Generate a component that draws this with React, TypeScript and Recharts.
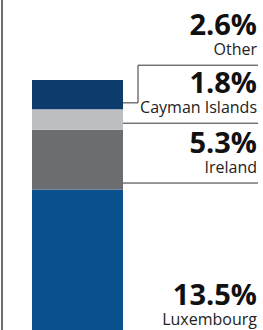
import React from 'react';
import { BarChart, Bar, XAxis, YAxis, LabelList } from 'recharts';

const categories = ['Share'];
const seriesNames = ['Luxembourg', 'Ireland', 'Cayman Islands', 'Other'];
const seriesValues = [13.5, 5.3, 1.8, 2.6];
const seriesColors = ['#0a508e', '#6c6d70', '#bdbec0', '#0d3c6c'];

const data = categories.map((name) => {
  const row: Record<string, string | number> = { name };
  seriesValues.forEach((v, i) => {
    row[`s${i}`] = v;
  });
  return row;
});

const total = seriesValues.reduce((a, b) => a + b, 0);

const LINE_GAP = 7; // leader line sits this far above segment bottom
const BLOCK = 58; // height of one label block
const LINE_REACH = 135; // from bar edge to end of separator line

// works out where each label's separator line goes, pushing labels up when they collide
function lineYs(base: number, ppu: number) {
  const out: number[] = [];
  let bottom = base;
  seriesValues.forEach((v, i) => {
    const want = bottom - LINE_GAP;
    out.push(i === 0 ? want : Math.min(want, out[i - 1] - BLOCK));
    bottom -= v * ppu;
  });
  return out;
}

const SegLabel = (props: any) => {
  const idx: number = props.idx;
  const vb = props.viewBox || {};
  const x = props.x ?? vb.x;
  const y = props.y ?? vb.y;
  const w = props.width ?? vb.width;
  const h = props.height ?? vb.height;
  const value = seriesValues[idx];
  const ppu = h / value;
  const segBottom = y + h;
  const below = seriesValues.slice(0, idx).reduce((a, b) => a + b, 0);
  const base = segBottom + below * ppu;
  const L = lineYs(base, ppu)[idx];
  const want = segBottom - LINE_GAP;
  const edge = x + w;
  const right = edge + LINE_REACH;
  const textX = right - 1;

  let path = `M${edge},${L + 0.5}H${right}`;
  if (L < want - 1) {
    path = `M${edge},${want + 0.5}H${edge + 15}V${L + 0.5}H${right}`;
  }

  return (
    <g>
      <path d={path} stroke="#333" strokeWidth={1} fill="none" />
      <text
        x={textX}
        y={L - 30}
        textAnchor="end"
        fontFamily="'Open Sans', sans-serif"
        fontWeight={700}
        fontSize={29}
        fill="#111"
      >
        {`${value.toFixed(1)}%`}
      </text>
      <text
        x={textX}
        y={L - 10}
        textAnchor="end"
        fontFamily="'Open Sans', sans-serif"
        fontSize={16}
        fill="#222"
      >
        {seriesNames[idx]}
      </text>
    </g>
  );
};

export default function App() {
  return (
    <div
      style={{
        position: 'absolute',
        top: 0,
        left: 0,
        width: 263,
        height: 330,
        overflow: 'hidden',
        background: '#fff',
      }}
    >
      <div
        style={{
          position: 'absolute',
          left: 1,
          top: 0,
          width: 2,
          height: 330,
          background: '#6e6e6e',
        }}
      />
      <BarChart
        width={263}
        height={345}
        data={data}
        margin={{ top: 80, right: 140, left: 32, bottom: 3 }}
        barCategoryGap={0}
      >
        <XAxis dataKey="name" hide />
        <YAxis hide domain={[0, total]} />
        {seriesValues.map((_, i) => (
          <Bar
            key={i}
            dataKey={`s${i}`}
            stackId="a"
            fill={seriesColors[i]}
            isAnimationActive={false}
          >
            <LabelList dataKey={`s${i}`} content={(p: any) => <SegLabel {...p} idx={i} />} />
          </Bar>
        ))}
      </BarChart>
    </div>
  );
}
